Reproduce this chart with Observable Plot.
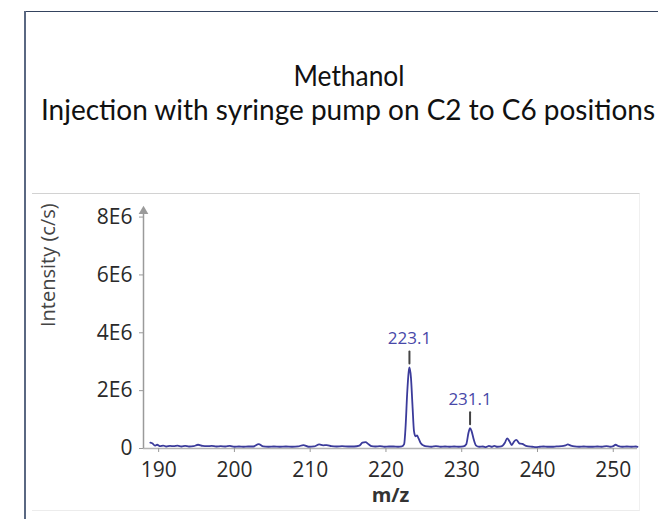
<!DOCTYPE html>
<html><head><meta charset="utf-8">
<script src="https://cdn.jsdelivr.net/npm/d3@7"></script>
<script src="https://cdn.jsdelivr.net/npm/@observablehq/plot@0.6"></script>
<style>
body{margin:0;background:#fff;}
#wrap{position:relative;width:658px;height:519px;overflow:hidden;background:#fff;}
#frameTop{position:absolute;left:25px;top:11px;width:633px;height:0;border-top:1px solid #34435f;}
#frameLeft{position:absolute;left:24px;top:11px;width:0;height:508px;border-left:2px solid #5a6882;}
#panel{position:absolute;left:32px;top:193px;width:607px;height:316px;border-top:1px solid #d2d2d2;border-bottom:1px solid #ececec;border-right:1px solid #f0f0f0;}
#title{position:absolute;left:0;top:0;}
#chart{position:absolute;left:32px;top:194px;}
</style></head>
<body>
<div id="wrap">
  <div id="frameTop"></div>
  <div id="frameLeft"></div>
  <div id="panel"></div>
  <svg id="title" width="658" height="150" font-family="Lato, 'Open Sans', sans-serif" fill="#111">
    <text x="349" y="86" text-anchor="middle" font-size="28" textLength="111" lengthAdjust="spacingAndGlyphs">Methanol</text>
    <text x="348" y="120" text-anchor="middle" font-size="28" textLength="614" lengthAdjust="spacingAndGlyphs">Injection with syringe pump on C2 to C6 positions</text>
  </svg>
  <div id="chart"></div>
</div>
<script>
// m/z values of the recorded trace
const mz = [188.9,189.2,189.5,189.8,190.2,190.6,191.0,191.5,192.0,192.5,193.0,193.5,194.0,194.6,195.2,195.8,196.4,197.0,197.6,198.2,198.8,199.4,200.0,200.6,201.2,201.8,202.5,203.2,203.8,204.5,205.2,206.0,206.8,207.6,208.4,209.1,209.8,210.5,211.2,211.7,212.2,212.8,213.5,214.2,215.0,215.8,216.5,216.9,217.3,217.7,218.1,218.6,219.2,219.8,220.4,221.0,221.6,222.1,222.4,222.6,222.8,223.0,223.1,223.3,223.5,223.7,223.9,224.1,224.3,224.6,225.0,225.5,226.0,226.6,227.2,227.8,228.4,229.0,229.6,230.2,230.6,230.9,231.1,231.3,231.6,231.9,232.3,232.8,233.2,233.6,234.0,234.3,234.7,235.2,235.7,236.0,236.3,236.6,236.9,237.2,237.6,238.0,238.4,238.8,239.3,239.8,240.3,240.8,241.3,241.9,242.5,243.2,243.7,244.0,244.4,244.9,245.5,246.1,246.7,247.3,247.9,248.5,249.1,249.6,250.0,250.3,250.7,251.2,251.8,252.4,253.0,253.2];
// intensity in units of 1E6 c/s
const intensity = [0.2,0.17,0.1,0.13,0.08,0.1,0.07,0.09,0.08,0.1,0.07,0.09,0.07,0.08,0.13,0.09,0.08,0.09,0.07,0.08,0.07,0.09,0.06,0.07,0.06,0.07,0.07,0.15,0.07,0.06,0.07,0.06,0.07,0.06,0.07,0.12,0.06,0.07,0.14,0.11,0.12,0.08,0.07,0.08,0.07,0.07,0.1,0.2,0.22,0.15,0.08,0.07,0.08,0.06,0.07,0.07,0.06,0.07,0.15,0.8,1.9,2.65,2.8,2.45,1.5,0.6,0.42,0.45,0.35,0.18,0.1,0.07,0.06,0.08,0.06,0.07,0.06,0.07,0.06,0.07,0.15,0.55,0.7,0.6,0.3,0.1,0.06,0.07,0.05,0.09,0.06,0.09,0.06,0.07,0.2,0.35,0.25,0.12,0.24,0.3,0.18,0.16,0.1,0.07,0.06,0.05,0.06,0.07,0.06,0.06,0.07,0.08,0.11,0.14,0.1,0.07,0.06,0.07,0.06,0.06,0.07,0.06,0.08,0.06,0.08,0.13,0.08,0.06,0.07,0.06,0.07,0.06];
const peakMz = [223.1, 231.1];
const peakIntensity = [2.8, 0.7];
const peakLabels = ["223.1", "231.1"];
const xTicks = [190, 200, 210, 220, 230, 240, 250];
const yTicks = [0, 2, 4, 6, 8];
const yTickLabels = ["0", "2E6", "4E6", "6E6", "8E6"];

const trace = mz.map((m, i) => ({m, v: intensity[i]}));
const peaks = peakMz.map((m, i) => ({m, v: peakIntensity[i], label: peakLabels[i]}));
const lineShape = {draw(context, l) { context.moveTo(0, 0); context.lineTo(0, -l); }};

const chart = Plot.plot({
  width: 607, height: 315,
  marginLeft: 111, marginRight: 2, marginTop: 11, marginBottom: 61,
  style: {fontFamily: "'Open Sans', sans-serif", fontSize: "19px", background: "transparent", color: "#333", overflow: "visible"},
  x: {domain: [188, 253.2]},
  y: {domain: [0, 8.4]},
  marks: [
    Plot.ruleY([0], {stroke: "#b4b4b4", strokeWidth: 1.5}),
    Plot.ruleX([188], {y1: 0, y2: 8.2, stroke: "#9a9a9a", strokeWidth: 1.5}),
    Plot.dot([8.2], {x: 188, y: d => d, symbol: "triangle", r: 3.6, fill: "#9a9a9a", stroke: null}),
    Plot.axisY({ticks: yTicks, tickFormat: d => yTickLabels[yTicks.indexOf(d)], tickSize: 4, tickPadding: 7, stroke: "#999", fill: "#2a2a2a", fontSize: 21, fontWeight: 500, label: null}),
    Plot.axisX({ticks: xTicks, tickSize: 4, tickPadding: 10, stroke: "#999", fill: "#2a2a2a", fontSize: 21, fontWeight: 500, label: null}),
    Plot.line(trace, {x: "m", y: "v", stroke: "#3b3b9b", strokeWidth: 1.8, curve: "monotone-x"}),
    Plot.vector(peaks, {x: "m", y: "v", length: 12, rotate: 0, anchor: "start", dy: -4, stroke: "#444", strokeWidth: 2, shape: lineShape}),
    Plot.text(peaks, {x: "m", y: "v", text: "label", dy: -29, fill: "#4848a8", fontSize: 17}),
    Plot.text(["m/z"], {frameAnchor: "bottom", dy: 53, fontWeight: "bold", fontSize: 20, fill: "#333"}),
    Plot.text(["Intensity (c/s)"], {frameAnchor: "left", dx: -95, rotate: -90, fontSize: 20, fill: "#444"})
  ]
});
document.getElementById("chart").appendChild(chart);
</script>
</body></html>
